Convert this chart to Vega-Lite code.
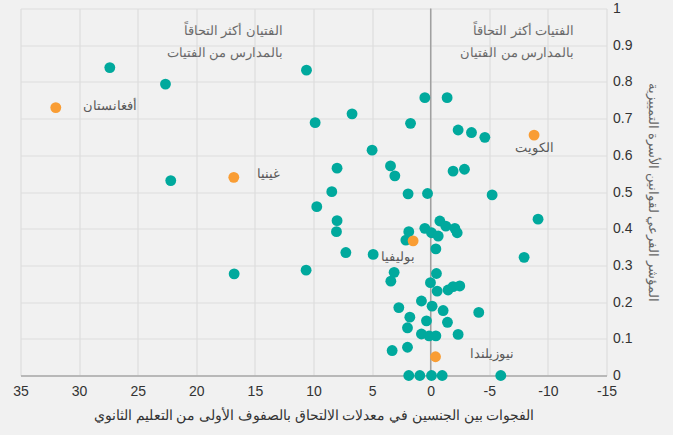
{
  "$schema": "https://vega.github.io/schema/vega-lite/v6.json",
  "width": 586,
  "height": 367,
  "autosize": {"type": "none"},
  "padding": {"left": 20.5, "top": 8.5, "right": 66.5, "bottom": 59.5},
  "background": "#f1f1f1",
  "config": {
    "view": {"stroke": null},
    "font": "Liberation Sans"
  },
  "datasets": {
    "points": [
      {"gap": 27.38, "index": 0.839, "group": "other"},
      {"gap": 22.63, "index": 0.794, "group": "other"},
      {"gap": 10.6, "index": 0.832, "group": "other"},
      {"gap": 9.86, "index": 0.689, "group": "other"},
      {"gap": 0.5, "index": 0.757, "group": "other"},
      {"gap": -1.4, "index": 0.757, "group": "other"},
      {"gap": 6.71, "index": 0.713, "group": "other"},
      {"gap": 1.72, "index": 0.687, "group": "other"},
      {"gap": -2.34, "index": 0.669, "group": "other"},
      {"gap": -3.48, "index": 0.662, "group": "other"},
      {"gap": -4.62, "index": 0.649, "group": "other"},
      {"gap": 22.18, "index": 0.531, "group": "other"},
      {"gap": 7.99, "index": 0.565, "group": "other"},
      {"gap": 8.44, "index": 0.501, "group": "other"},
      {"gap": 9.72, "index": 0.46, "group": "other"},
      {"gap": 7.99, "index": 0.422, "group": "other"},
      {"gap": 8.04, "index": 0.392, "group": "other"},
      {"gap": 16.77, "index": 0.277, "group": "other"},
      {"gap": 10.63, "index": 0.287, "group": "other"},
      {"gap": 5.0, "index": 0.614, "group": "other"},
      {"gap": 3.43, "index": 0.571, "group": "other"},
      {"gap": 3.06, "index": 0.544, "group": "other"},
      {"gap": -1.91, "index": 0.557, "group": "other"},
      {"gap": -2.88, "index": 0.562, "group": "other"},
      {"gap": 1.93, "index": 0.495, "group": "other"},
      {"gap": 0.27, "index": 0.496, "group": "other"},
      {"gap": -5.24, "index": 0.492, "group": "other"},
      {"gap": -9.16, "index": 0.426, "group": "other"},
      {"gap": 1.87, "index": 0.392, "group": "other"},
      {"gap": 2.12, "index": 0.369, "group": "other"},
      {"gap": 7.24, "index": 0.335, "group": "other"},
      {"gap": 4.91, "index": 0.33, "group": "other"},
      {"gap": -0.44, "index": 0.345, "group": "other"},
      {"gap": -7.97, "index": 0.322, "group": "other"},
      {"gap": 0.5, "index": 0.401, "group": "other"},
      {"gap": -0.07, "index": 0.389, "group": "other"},
      {"gap": -0.64, "index": 0.38, "group": "other"},
      {"gap": -0.78, "index": 0.421, "group": "other"},
      {"gap": -1.29, "index": 0.407, "group": "other"},
      {"gap": -2.06, "index": 0.401, "group": "other"},
      {"gap": -2.26, "index": 0.389, "group": "other"},
      {"gap": 3.12, "index": 0.281, "group": "other"},
      {"gap": -0.49, "index": 0.278, "group": "other"},
      {"gap": 3.4, "index": 0.257, "group": "other"},
      {"gap": 0.02, "index": 0.253, "group": "other"},
      {"gap": -0.55, "index": 0.23, "group": "other"},
      {"gap": -1.48, "index": 0.233, "group": "other"},
      {"gap": -1.91, "index": 0.242, "group": "other"},
      {"gap": -2.48, "index": 0.244, "group": "other"},
      {"gap": 0.79, "index": 0.203, "group": "other"},
      {"gap": 2.72, "index": 0.185, "group": "other"},
      {"gap": -0.12, "index": 0.189, "group": "other"},
      {"gap": -1.06, "index": 0.177, "group": "other"},
      {"gap": -4.1, "index": 0.172, "group": "other"},
      {"gap": 1.78, "index": 0.159, "group": "other"},
      {"gap": 0.36, "index": 0.149, "group": "other"},
      {"gap": -1.43, "index": 0.145, "group": "other"},
      {"gap": 1.98, "index": 0.13, "group": "other"},
      {"gap": 0.79, "index": 0.113, "group": "other"},
      {"gap": 0.14, "index": 0.108, "group": "other"},
      {"gap": -0.44, "index": 0.108, "group": "other"},
      {"gap": -2.34, "index": 0.112, "group": "other"},
      {"gap": 1.98, "index": 0.077, "group": "other"},
      {"gap": 3.29, "index": 0.068, "group": "other"},
      {"gap": 1.87, "index": 0, "group": "other"},
      {"gap": 0.93, "index": 0, "group": "other"},
      {"gap": -0.07, "index": 0, "group": "other"},
      {"gap": -0.98, "index": 0, "group": "other"},
      {"gap": -5.98, "index": 0, "group": "other"},
      {"gap": 31.99, "index": 0.73, "group": "highlight", "country": "أفغانستان"},
      {"gap": 16.8, "index": 0.54, "group": "highlight", "country": "غينيا"},
      {"gap": -8.82, "index": 0.655, "group": "highlight", "country": "الكويت"},
      {"gap": 1.5, "index": 0.367, "group": "highlight", "country": "بوليفيا"},
      {"gap": -0.41, "index": 0.051, "group": "highlight", "country": "نيوزيلندا"}
    ],
    "labels": [
      {"gap": 27.38, "index": 0.734, "country": "أفغانستان"},
      {"gap": 13.86, "index": 0.548, "country": "غينيا"},
      {"gap": -8.88, "index": 0.619, "country": "الكويت"},
      {"gap": 2.78, "index": 0.324, "country": "بوليفيا"},
      {"gap": -5.23, "index": 0.058, "country": "نيوزيلندا"}
    ],
    "notes": [
      {"gap": 12.6, "index": 0.938, "note": "الفتيان أكثر التحاقاً"},
      {"gap": 12.6, "index": 0.878, "note": "بالمدارس من الفتيات"},
      {"gap": -12.24, "index": 0.938, "note": "الفتيات أكثر التحاقاً"},
      {"gap": -12.24, "index": 0.878, "note": "بالمدارس من الفتيان"}
    ],
    "zeroline": [
      {"gap": 0, "index": 0, "index2": 1}
    ]
  },
  "encoding": {
    "x": {
      "field": "gap",
      "type": "quantitative",
      "title": "الفجوات بين الجنسين في معدلات الالتحاق بالصفوف الأولى من التعليم الثانوي",
      "scale": {"domain": [-15, 35], "reverse": true, "nice": false, "zero": false},
      "axis": {
        "values": [-15, -10, -5, 0, 5, 10, 15, 20, 25, 30, 35],
        "labelExpr": "'' + datum.value",
        "grid": true,
        "gridColor": "#dedede",
        "gridWidth": 1.2,
        "domainColor": "#a8a8a8",
        "domainWidth": 1.5,
        "ticks": false,
        "labelFlush": false,
        "labelFontSize": 14,
        "labelColor": "#333333",
        "labelPadding": 9,
        "titleFontSize": 13.5,
        "titleFontWeight": "normal",
        "titleColor": "#333333",
        "titlePadding": 10
      }
    },
    "y": {
      "field": "index",
      "type": "quantitative",
      "title": "المؤشر الفرعي لقوانين الأسرة التمييزية",
      "scale": {"domain": [0, 1], "nice": false, "zero": true},
      "axis": {
        "orient": "right",
        "values": [0, 0.1, 0.2, 0.3, 0.4, 0.5, 0.6, 0.7, 0.8, 0.9, 1],
        "format": ".1~f",
        "grid": true,
        "gridColor": "#dedede",
        "gridWidth": 1.2,
        "domain": false,
        "ticks": false,
        "labelFlush": false,
        "labelFontSize": 14,
        "labelColor": "#333333",
        "labelPadding": 6,
        "titleFontSize": 13,
        "titleFontWeight": "normal",
        "titleColor": "#666666",
        "titlePadding": 14
      }
    }
  },
  "layer": [
    {
      "data": {"name": "zeroline"},
      "mark": {"type": "rule", "color": "#a0a0a0", "strokeWidth": 1.5},
      "encoding": {
        "y2": {"field": "index2"}
      }
    },
    {
      "data": {"name": "points"},
      "mark": {"type": "circle", "size": 118, "opacity": 1},
      "encoding": {
        "color": {
          "field": "group",
          "type": "nominal",
          "scale": {"domain": ["other", "highlight"], "range": ["#00a99d", "#f99d34"]},
          "legend": null
        },
        "order": {"field": "group", "sort": "descending"}
      }
    },
    {
      "data": {"name": "labels"},
      "mark": {"type": "text", "align": "center", "baseline": "middle", "fontSize": 12.5, "color": "#595959"},
      "encoding": {
        "text": {"field": "country"}
      }
    },
    {
      "data": {"name": "notes"},
      "mark": {"type": "text", "align": "right", "baseline": "middle", "fontSize": 13, "color": "#6a6a6a"},
      "encoding": {
        "text": {"field": "note"}
      }
    }
  ]
}
